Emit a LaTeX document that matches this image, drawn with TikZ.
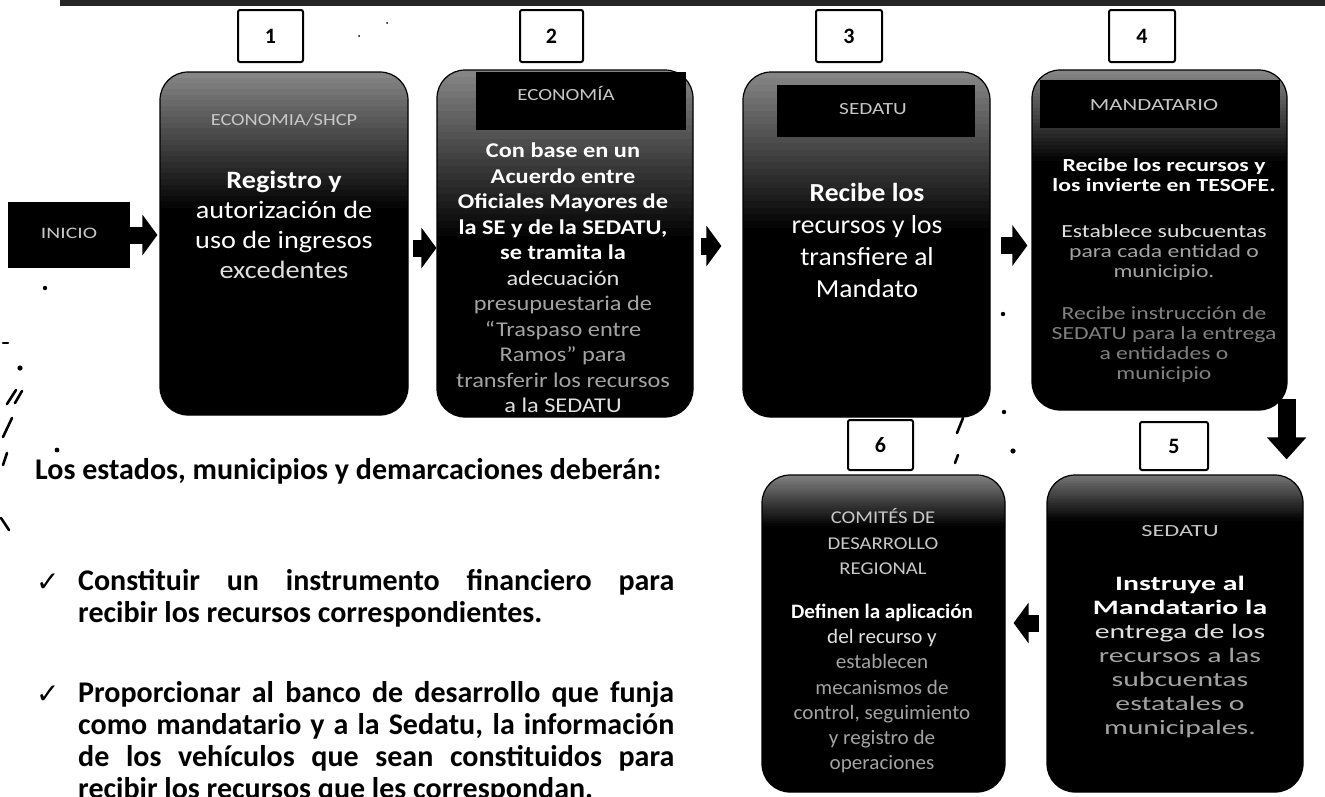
\documentclass[tikz,border=0pt]{standalone}
\usepackage{fontspec}
\setmainfont{Carlito}
\newfontfamily\symfont{DejaVu Sans}
\usepackage{graphicx}
\usetikzlibrary{arrows.meta}
\definecolor{hdrgray}{gray}{0.78}
\definecolor{lightw}{gray}{0.88}
\definecolor{faded}{gray}{0.64}
\definecolor{dim}{gray}{0.5}
\newcommand\boxlines[4]{\scalebox{#3}[1]{\fontsize{#1}{#2}\selectfont\begin{tabular}{@{}c@{}}#4\end{tabular}}}
\newcommand\fd[1]{{\color{faded}#1}}
\newcommand\dm[1]{{\color{dim}#1}}
\newcommand\lw[1]{{\color{lightw}#1}}
\begin{document}
\begin{tikzpicture}[x=1pt,y=-1pt,
  stage/.style={draw=black, line width=1.2pt, fill=black, rounded corners=28pt, inner sep=0pt},
  topfade/.style 2 args={path picture={
      \foreach \i in {0,...,23}{
        \pgfmathsetmacro\shadeval{#2+(100-#2)*\i/24}
        \fill[sharp corners, black!\shadeval]
          ([yshift=-\i*#1/24]path picture bounding box.north west) rectangle
          ([yshift=-(\i+1)*#1/24-0.6pt]path picture bounding box.north east);
      }}},
  header/.style={fill=black, draw=none, inner sep=0pt},
  numbox/.style={draw=black, line width=2pt, fill=white, rounded corners=2pt, inner sep=0pt,
      font=\fontsize{22}{22}\selectfont\bfseries},
  body/.style={text=white, inner sep=0pt},
  hdr/.style={text=hdrgray, inner sep=0pt},
  blockarrow/.style={line width=17pt, -{Triangle[length=15pt,width=40pt]}},
  downarrow/.style={line width=18pt, -{Triangle[length=22pt,width=38pt]}},
  speck/.style={line width=2.6pt, line cap=round},
  check/.style={anchor=base west, inner sep=0pt, font=\fontsize{28}{28}\selectfont\symfont},
  para/.style={anchor=north west, inner sep=0pt, text width=596pt, align=justify,
      font=\fontsize{30}{32}\selectfont\bfseries}]
\useasboundingbox (0,0) rectangle (1325,796);
\clip (0,0) rectangle (1325,796);

% scan band at the top
\fill[black!85] (60,0) rectangle (1325,6);

% stage boxes
\node[stage, minimum width=248pt, minimum height=343pt, topfade={135pt}{48}] (b1) at (284,243.5) {};
\node[stage, minimum width=256pt, minimum height=347pt, topfade={165pt}{48}] (b2) at (565,243.5) {};
\node[stage, minimum width=247pt, minimum height=345pt, topfade={155pt}{48}] (b3) at (866.5,244.5) {};
\node[stage, minimum width=255pt, minimum height=340pt, topfade={90pt}{48}] (b4) at (1159.5,240) {};
\node[stage, minimum width=256pt, minimum height=317pt, topfade={45pt}{55}] (b5) at (1175,633.5) {};
\node[stage, minimum width=243pt, minimum height=317pt, topfade={50pt}{50}] (b6) at (883.5,633.5) {};

% header bars
\node[header, minimum width=210pt, minimum height=58pt] (h2) at (581,101) {};
\node[header, minimum width=198pt, minimum height=52pt] (h3) at (876,111) {};
\node[header, minimum width=240pt, minimum height=48pt] (h4) at (1160,104) {};

% number boxes
\node[numbox, minimum width=65pt, minimum height=52pt] (n1) at (270.5,36) {1};
\node[numbox, minimum width=63pt, minimum height=52pt] (n2) at (551.5,36) {2};
\node[numbox, minimum width=66pt, minimum height=52pt] (n3) at (849,36) {3};
\node[numbox, minimum width=66pt, minimum height=52pt] (n4) at (1142,36) {4};
\node[numbox, minimum width=68pt, minimum height=48pt] (n5) at (1174,446) {5};
\node[numbox, minimum width=65pt, minimum height=50pt] (n6) at (880.5,445) {6};

% start box
\node[fill=black, minimum width=122pt, minimum height=66pt, inner sep=0pt] (ini) at (69,235)
  {\boxlines{16}{16}{1.35}{\color{hdrgray}INICIO}};

% header texts
\node[hdr] (k1) at (284,122) {\boxlines{17}{17}{1.2}{ECONOMIA/SHCP}};
\node[hdr] (k2) at (566,96) {\boxlines{17}{17}{1.23}{ECONOMÍA}};
\node[hdr] (k3) at (873,111) {\boxlines{17}{17}{1.25}{SEDATU}};
\node[hdr] (k4) at (1154,107) {\boxlines{17}{17}{1.34}{MANDATARIO}};
\node[hdr] (k5) at (1180,533) {\boxlines{17}{17}{1.43}{SEDATU}};
\node[hdr] (k6) at (883,544) {\boxlines{18}{25.5}{1.15}{COMITÉS DE\\ DESARROLLO\\ REGIONAL}};

% body texts
\node[body] (t1) at (284,227) {\boxlines{25}{30}{1.13}{\bfseries Registro y\\ autorización de\\ uso de ingresos\\ \lw{excedentes}}};
\node[body] (t2) at (563,280) {\boxlines{21}{25.5}{1.16}{\bfseries Con base en un\\ \bfseries Acuerdo entre\\ \bfseries Oficiales Mayores de\\ \bfseries la SE y de la SEDATU,\\ \bfseries se tramita la\\ \lw{adecuación}\\ \fd{presupuestaria de}\\ \fd{“Traspaso entre}\\ \fd{Ramos” para}\\ \fd{transferir los recursos}\\ \lw{a la SEDATU}}};
\node[body] (t3) at (867,243) {\boxlines{26}{32}{1.06}{\bfseries Recibe los\\ recursos y los\\ transfiere al\\ Mandato}};
\node[body] (t4) at (1164,271) {\boxlines{18.5}{20}{1.28}{\bfseries Recibe los recursos y\\ \bfseries los invierte en TESOFE.\\[26pt] \lw{Establece subcuentas}\\ \fd{para cada entidad o}\\ \fd{municipio.}\\[22pt] \dm{Recibe instrucción de}\\ \dm{SEDATU para la entrega}\\ \dm{a entidades o}\\ \dm{municipio}}};
\node[body] (t5) at (1180,658) {\boxlines{20.5}{24}{1.45}{\bfseries Instruye al\\ \bfseries Mandatario la\\ \lw{entrega de los}\\ \fd{recursos a las}\\ \fd{subcuentas}\\ \fd{estatales o}\\ \fd{municipales.}}};
\node[body] (t6) at (882,689) {\boxlines{20.5}{25.3}{1.03}{\bfseries Definen la aplicación\\ \lw{del recurso y}\\ \fd{establecen}\\ \fd{mecanismos de}\\ \fd{control, seguimiento}\\ \fd{y registro de}\\ \fd{operaciones}}};

% block arrows
\draw[blockarrow, shorten >=2pt] (ini.east) -- (ini.east -| b1.west);
\draw[blockarrow, shorten <=4pt] ([yshift=-4.5pt]b1.east) -- ([yshift=-4.5pt]b1.east -| b2.west);
\draw[blockarrow, shorten <=7pt, shorten >=21pt] ([yshift=-2.5pt]b2.east) -- ([yshift=-2.5pt]b2.east -| b3.west);
\draw[blockarrow, shorten <=10pt, shorten >=4pt] ([yshift=-1pt]b3.east) -- ([yshift=-1pt]b3.east -| b4.west);
\coordinate (d1) at ([xshift=-1pt,yshift=12pt]b4.south east);
\draw[downarrow, shorten >=15pt] (d1) -- (d1 |- b5.north);
\draw[blockarrow, shorten <=7pt, shorten >=8pt] ([yshift=10.5pt]b5.west) -- ([yshift=10.5pt]b5.west -| b6.east);

% lower text
\node[anchor=base west, inner sep=0pt, font=\fontsize{30}{32}\selectfont\bfseries] (lead) at (35,479)
  {Los estados, municipios y demarcaciones deberán:};
\node[check] (c1) at (36,591) {✓};
\node[para] (p1) at (78,569) {Constituir un instrumento financiero para\linebreak recibir los recursos correspondientes.};
\node[check] (c2) at (36,703) {✓};
\node[para] (p2) at (78,681) {Proporcionar al banco de desarrollo que funja\linebreak como mandatario y a la Sedatu, la información\linebreak de los vehículos que sean constituidos para\linebreak recibir los recursos que les correspondan.};

% scan specks
\fill (20,368) circle (2.6);
\draw[speck] (7,404) -- (16,390);
\draw[speck] (15,403) -- (22,391);
\draw[speck] (3,437) -- (12,418);
\draw[speck] (3,465) -- (7,453);
\fill (57,450) circle (2.4);
\fill (45,288) circle (2.2);
\draw[speck] (3,343) -- (8,343);
\draw[speck] (1,518) -- (9,530);
\draw[speck] (957,433) -- (963,418);
\draw[speck] (955,463) -- (958,455);
\fill (1013,451) circle (2.6);
\fill (1003,314) circle (2.2);
\fill (1004,412) circle (2.2);
\fill (387,23) circle (1);
\fill (359,36) circle (1);
\end{tikzpicture}
\end{document}
